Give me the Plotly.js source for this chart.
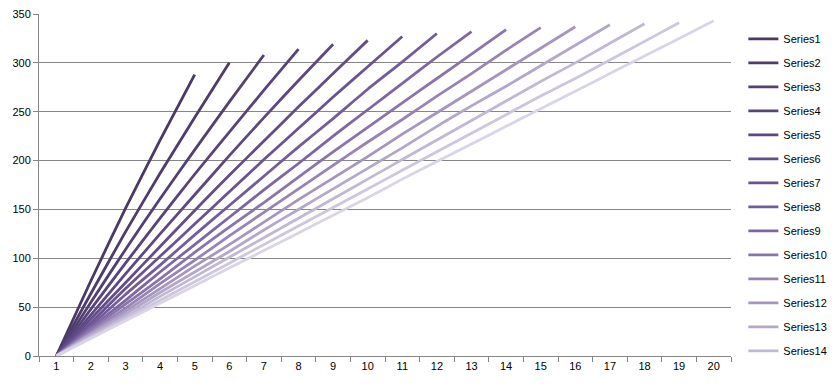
<!DOCTYPE html>
<html>
<head>
<meta charset="utf-8">
<script src="https://cdn.plot.ly/plotly-3.0.1.min.js"></script>
<style>html,body{margin:0;padding:0;background:#fff;}#chart{width:839px;height:388px;}</style>
</head>
<body>
<div id="chart"></div>
<script>
const categories = ["1","2","3","4","5","6","7","8","9","10","11","12","13","14","15","16","17","18","19","20"];
const seriesNames = ["Series1","Series2","Series3","Series4","Series5","Series6","Series7","Series8","Series9","Series10","Series11","Series12","Series13","Series14","Series15","Series16"];
const s1 = [0, 77, 151, 221, 288];
const s2 = [0, 64, 127, 187, 244, 300];
const s3 = [0, 55, 109, 161, 211, 260, 308];
const s4 = [0, 48, 95, 141, 186, 229, 272, 314];
const s5 = [0, 42, 84, 125, 165, 205, 244, 282, 319];
const s6 = [0, 38, 75, 112, 149, 185, 220, 255, 289, 323];
const s7 = [0, 34, 69, 102, 135, 168, 201, 233, 265, 296, 327];
const s8 = [0, 31, 63, 93, 124, 154, 184, 214, 243, 273, 301, 330];
const s9 = [0, 29, 57, 86, 114, 142, 170, 197, 225, 252, 279, 306, 332];
const s10 = [0, 27, 53, 79, 106, 132, 157, 183, 209, 234, 259, 284, 309, 334];
const s11 = [0, 25, 49, 74, 98, 123, 147, 171, 195, 219, 242, 266, 289, 313, 336];
const s12 = [0, 23, 46, 69, 92, 114, 137, 160, 182, 204, 227, 249, 271, 293, 315, 337];
const s13 = [0, 22, 43, 65, 86, 107, 129, 150, 171, 192, 213, 235, 256, 276, 297, 318, 339];
const s14 = [0, 20, 40, 61, 81, 101, 121, 141, 161, 181, 201, 221, 241, 261, 281, 300, 320, 340];
const s15 = [0, 19, 38, 57, 76, 95, 114, 133, 152, 171, 190, 209, 228, 247, 266, 284, 303, 322, 341];
const s16 = [0, 18, 36, 54, 72, 90, 108, 126, 144, 162, 181, 199, 217, 235, 253, 271, 289, 307, 325, 343];
const yTicks = [0, 50, 100, 150, 200, 250, 300, 350];

const allSeries = [s1,s2,s3,s4,s5,s6,s7,s8,s9,s10,s11,s12,s13,s14,s15,s16];
const colors = ["#4a3966","#4e3c6c","#534073","#58447a","#5d4881","#634d89","#6a5391","#735c9a","#7e66a3","#8a74ac","#9784b5","#a595bf","#b3a7ca","#c1b8d4","#cdc6dd","#d9d4e6"];
const legendCount = 14;

const traces = allSeries.map((vals, i) => ({
  type: "scatter",
  mode: "lines",
  name: seriesNames[i],
  x: categories.slice(0, vals.length),
  y: vals,
  line: {color: colors[i], width: 2.8, shape: "spline", smoothing: 0.6},
  legendgroup: "g" + i,
  showlegend: i < legendCount
}));

const layout = {
  width: 839, height: 388,
  margin: {l: 39, r: 108, t: 14, b: 32},
  paper_bgcolor: "#ffffff", plot_bgcolor: "#ffffff",
  font: {family: "Liberation Sans, Arial, sans-serif", size: 11, color: "#000"},
  showlegend: true,
  legend: {
    xref: "container", yref: "container",
    x: 0.886, y: 0.937, xanchor: "left", yanchor: "top",
    traceorder: "grouped", tracegroupgap: 5,
    itemwidth: 30, maxheight: 380,
    font: {family: "Liberation Sans, Arial, sans-serif", size: 11, color: "#000"},
    bgcolor: "rgba(0,0,0,0)"
  },
  xaxis: {
    type: "category",
    categoryorder: "array", categoryarray: categories,
    range: [-0.5, categories.length - 0.5],
    tickson: "boundaries", ticks: "outside", ticklen: 5, tickcolor: "#868686",
    showline: true, linecolor: "#868686", linewidth: 1,
    showgrid: false, zeroline: false,
    tickfont: {size: 11, color: "#000"}
  },
  yaxis: {
    range: [0, 350], tickvals: yTicks,
    ticks: "outside", ticklen: 5, tickcolor: "#868686",
    showline: true, linecolor: "#868686", linewidth: 1,
    showgrid: true, gridcolor: "#868686", gridwidth: 1,
    zeroline: false,
    tickfont: {size: 11, color: "#000"}
  }
};

Plotly.newPlot("chart", traces, layout, {displayModeBar: false, staticPlot: true});
</script>
</body>
</html>
